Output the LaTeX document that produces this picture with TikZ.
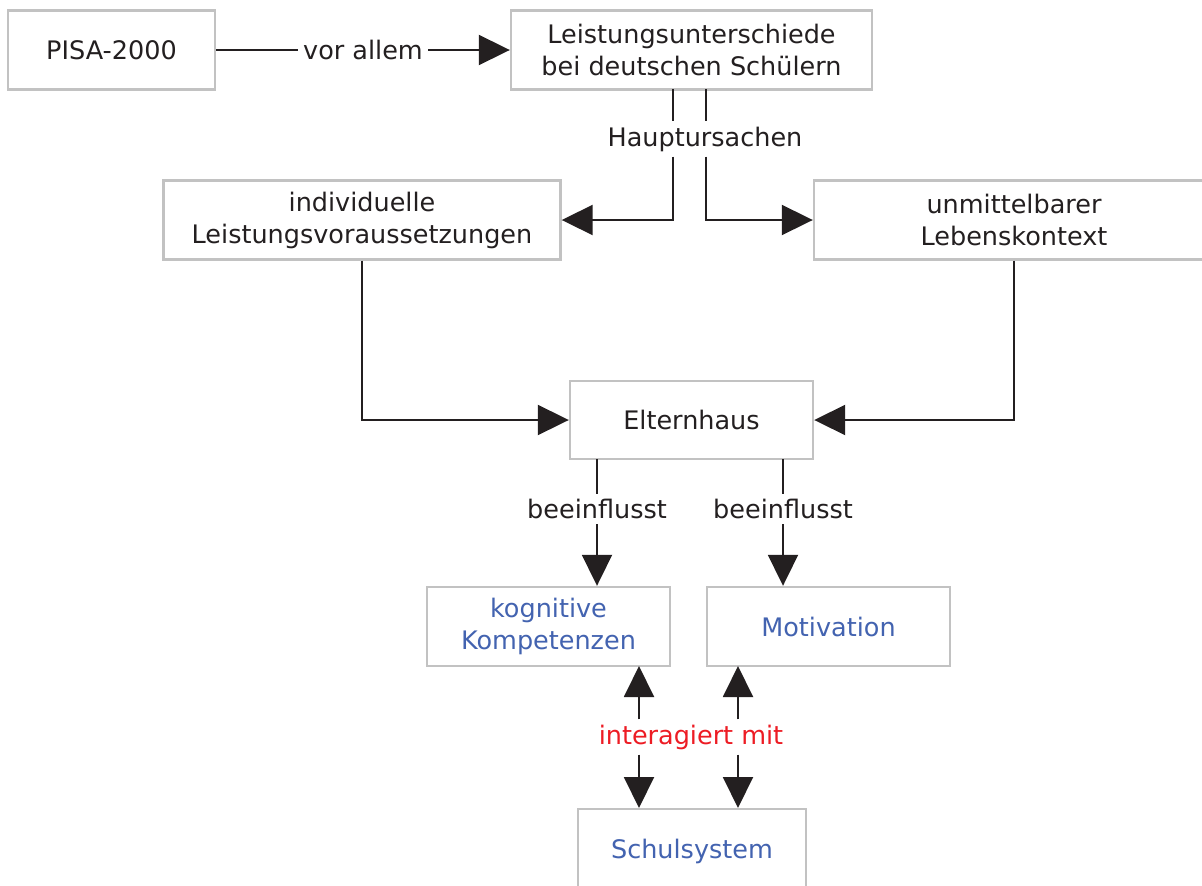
\documentclass[tikz,border=0pt]{standalone}
\usepackage{fontspec}
\setmainfont{DejaVu Sans}
\usetikzlibrary{arrows.meta}
\definecolor{ink}{HTML}{231F20}
\definecolor{boxgray}{HTML}{C2C2C2}
\definecolor{termblue}{HTML}{4363B0}
\definecolor{linkred}{HTML}{ED1C24}
\begin{document}
\begin{tikzpicture}[x=1pt,y=-1pt,
  every node/.style={font=\fontsize{25.5}{32}\selectfont, text=ink},
  box/.style={draw=boxgray, line width=2.4pt, fill=white, align=center, inner sep=0pt},
  conn/.style={draw=ink, line width=2pt},
  tip/.style={-{Triangle[length=31pt,width=30pt]}},
  linklabel/.style={fill=white, inner sep=5pt},
  blue/.style={text=termblue}]
\clip (0,0) rectangle (1202,886);
\fill[white] (0,0) rectangle (1202,886);

% boxes
\node[box, minimum width=207pt, minimum height=79pt] (pisa) at (111.5,50) {PISA-2000};
\node[box, minimum width=361pt, minimum height=79pt] (unter) at (691.5,50) {Leistungsunterschiede\\bei deutschen Schülern};
\node[box, minimum width=397pt, minimum height=79pt] (indiv) at (362,220) {individuelle\\Leistungsvoraussetzungen};
\node[box, minimum width=400pt, minimum height=79pt] (kontext) at (1014,220) {unmittelbarer\\Lebenskontext};
\node[box, minimum width=243pt, minimum height=78pt] (eltern) at (691.5,420) {Elternhaus};
\node[box, minimum width=243pt, minimum height=79pt, blue] (kogn) at (548.5,626.5) {kognitive\\Kompetenzen};
\node[box, minimum width=243pt, minimum height=79pt, blue] (motiv) at (828.5,626.5) {Motivation};
\node[box, minimum width=228pt, minimum height=120pt, anchor=north] (schul) at (692,808) {};
\node[blue] (schultext) at (692,851) {Schulsystem};

% link labels
\node[linklabel] (vor) at (363,50) {vor allem};
\node[linklabel] (haupt) at (705,139) {Hauptursachen};
\node[linklabel] (bee1) at (597,509) {beeinflusst};
\node[linklabel] (bee2) at (783,509) {beeinflusst};
\node[linklabel, text=linkred] (inter) at (691,737) {interagiert mit};

% PISA to Leistungsunterschiede
\draw[conn] (pisa.east) -- (vor.west);
\draw[conn, tip] (vor.east) -- (unter.west);

% Hauptursachen branches
\coordinate (ul) at (673,89);
\coordinate (ur) at (706,89);
\draw[conn] (ul) -- (ul |- haupt.north);
\draw[conn] (ur) -- (ur |- haupt.north);
\draw[conn, tip] (ul |- haupt.south) |- (indiv.east);
\draw[conn, tip] (ur |- haupt.south) |- (kontext.west);

% both causes into Elternhaus
\draw[conn, tip] (indiv.south) |- (eltern.west);
\draw[conn, tip] (kontext.south) |- (eltern.east);

% Elternhaus influences
\coordinate (el) at (597,459);
\coordinate (er) at (783,459);
\draw[conn] (el) -- (el |- bee1.north);
\draw[conn] (er) -- (er |- bee2.north);
\draw[conn, tip] (bee1.south) -- (bee1.south |- kogn.north);
\draw[conn, tip] (bee2.south) -- (bee2.south |- motiv.north);

% interaction with the school system
\coordinate (kl) at (639,666);
\coordinate (mr) at (738,666);
\draw[conn, tip] (kl |- inter.north) -- (kl);
\draw[conn, tip] (mr |- inter.north) -- (mr);
\draw[conn, tip] (kl |- inter.south) -- (kl |- schul.north);
\draw[conn, tip] (mr |- inter.south) -- (mr |- schul.north);
\end{tikzpicture}
\end{document}
